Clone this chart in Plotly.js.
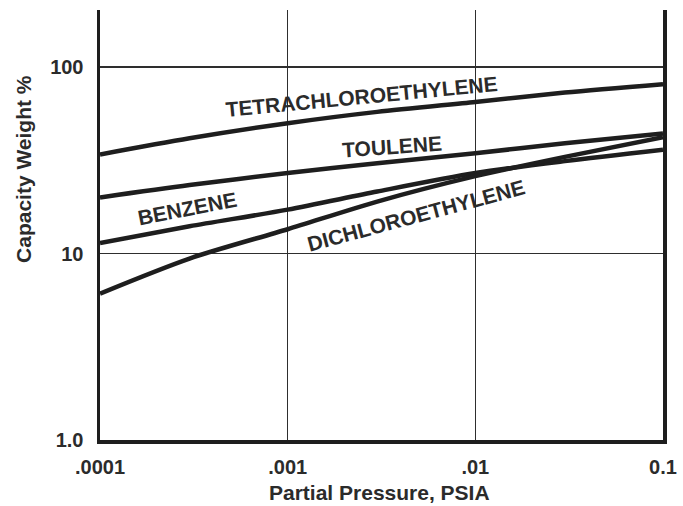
<!DOCTYPE html>
<html>
<head>
<meta charset="utf-8">
<script src="https://cdn.plot.ly/plotly-3.0.1.min.js"></script>
<style>html,body{margin:0;padding:0;background:#fff;}#chart{width:683px;height:506px;}</style>
</head>
<body>
<div id="chart"></div>
<script>
// Partial pressure (PSIA)
const pressure = [0.0001, 0.0003, 0.001, 0.003, 0.01, 0.03, 0.1];
// Capacity, weight %
const tetrachloroethylene = [34, 41.5, 50, 57.5, 65, 73, 81];
const toulene = [20, 23.3, 27, 30.5, 34.5, 39, 44];
const benzene = [11.4, 14, 17.2, 21.5, 27, 31.3, 36];
const dichloroethylene = [6.1, 9.4, 13.5, 19, 26, 33, 42];

const xTickVals = [0.0001, 0.001, 0.01, 0.1];
const xTickText = ['.0001', '.001', '.01', '0.1'];
const yTickVals = [1, 10, 100];
const yTickText = ['1.0', '10', '100'];

const seriesNames = ['TETRACHLOROETHYLENE', 'TOULENE', 'BENZENE', 'DICHLOROETHYLENE'];
const seriesValues = [tetrachloroethylene, toulene, benzene, dichloroethylene];

const lineColor = '#1e1e1e';
const textColor = '#2b2b2b';
const fontFam = '"Liberation Sans", Arial, Helvetica, sans-serif';

const traces = seriesValues.map((vals, i) => ({
  x: pressure, y: vals, type: 'scatter', mode: 'lines', name: seriesNames[i],
  line: {color: lineColor, width: 4.5, shape: 'spline', smoothing: 0.8},
  hoverinfo: 'x+y+name'
}));

const labelFont = {family: fontFam, size: 21, color: textColor};
const annotations = [
  {text: '<b>TETRACHLOROETHYLENE</b>', x: -4 + (362-100)/187.7, y: (440-96)/186.5, textangle: -5.5},
  {text: '<b>TOULENE</b>', x: -4 + (392-100)/187.7, y: (440-146)/186.5, textangle: -4},
  {text: '<b>BENZENE</b>', x: -4 + (187-100)/187.7, y: (440-208)/186.5, textangle: -11},
  {text: '<b>DICHLOROETHYLENE</b>', x: -4 + (416-100)/187.7, y: (440-215)/186.5, textangle: -15}
].map(a => Object.assign({xref: 'x', yref: 'y', showarrow: false, font: labelFont}, a));

annotations.push({
  text: '<b>Partial Pressure, PSIA</b>', xref: 'paper', yref: 'paper',
  x: 0.4956, y: -0.123, xanchor: 'center', yanchor: 'middle', showarrow: false,
  font: {family: fontFam, size: 21, color: textColor}
});
annotations.push({
  text: '<b>Capacity Weight %</b>', xref: 'paper', yref: 'paper',
  x: -0.137, y: 0.63, xanchor: 'center', yanchor: 'middle', showarrow: false, textangle: -90,
  font: {family: fontFam, size: 21, color: textColor}
});

const layout = {
  width: 683, height: 506,
  margin: {l: 100, r: 20, t: 10, b: 66},
  paper_bgcolor: '#fff', plot_bgcolor: '#fff',
  showlegend: false,
  font: {family: fontFam, color: textColor},
  xaxis: {
    type: 'log', range: [-4, -1],
    tickvals: xTickVals, ticktext: xTickText,
    tickfont: {family: fontFam, size: 20, color: textColor, weight: 'bold'},
    ticks: '', ticklabelstandoff: 6,
    showgrid: true, gridcolor: '#2e2e2e', gridwidth: 1.6,
    showline: true, linecolor: lineColor, linewidth: 4, mirror: false,
    zeroline: false
  },
  yaxis: {
    type: 'log', range: [0, 2.306],
    tickvals: yTickVals, ticktext: yTickText,
    tickfont: {family: fontFam, size: 20, color: textColor, weight: 'bold'},
    ticks: '', ticklabelstandoff: 9,
    showgrid: true, gridcolor: '#2e2e2e', gridwidth: 1.6,
    showline: true, linecolor: lineColor, linewidth: 3.5, mirror: true,
    zeroline: false
  },
  annotations: annotations
};

Plotly.newPlot('chart', traces, layout, {staticPlot: true, displayModeBar: false});
</script>
</body>
</html>
